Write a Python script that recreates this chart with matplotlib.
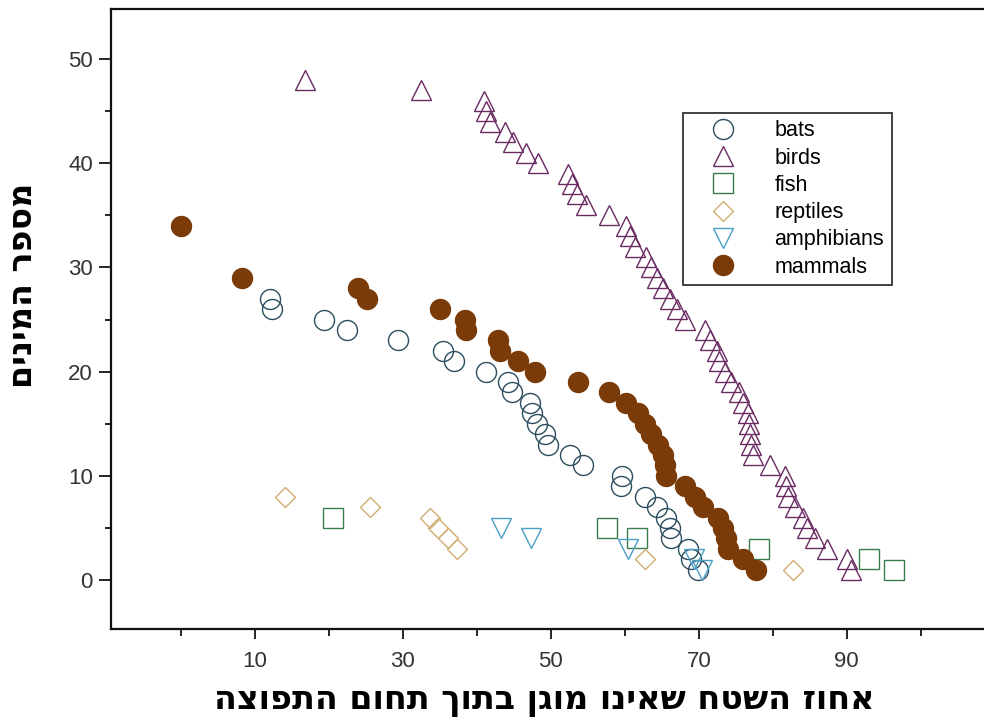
import numpy as np
import matplotlib
matplotlib.use("Agg")
import matplotlib.pyplot as plt
from matplotlib.ticker import MultipleLocator, FixedLocator

# percent of range that is unprotected, per species (sorted), and species count
bats_x = [12.1, 12.3, 19.4, 22.5, 29.4, 35.4, 36.9, 41.3, 44.2, 44.7, 47.2, 47.4,
          48.1, 49.2, 49.6, 52.6, 54.4, 59.6, 59.5, 62.7, 64.3, 65.6, 66.1, 66.3,
          68.6, 69.0, 69.9]
bats_y = list(range(27, 0, -1))

birds_x = [16.8, 32.4, 40.9, 41.2, 41.8, 43.8, 44.9, 46.7, 48.3, 52.3, 52.8, 53.5,
           54.7, 57.9, 60.2, 60.7, 61.4, 62.9, 63.6, 64.3, 65.2, 66.1, 67.0, 68.1,
           70.8, 71.5, 72.4, 72.8, 73.5, 74.4, 75.5, 76.0, 76.6, 76.8, 76.9, 77.0,
           77.4, 79.6, 81.6, 81.8, 82.1, 83.0, 84.1, 84.6, 85.7, 87.3, 90.0, 90.6]
birds_y = list(range(48, 0, -1))

fish_x = [20.6, 57.6, 61.7, 78.2, 93.0, 96.4]
fish_y = [6, 5, 4, 3, 2, 1]

reptiles_x = [14.1, 25.5, 33.6, 34.8, 36.1, 37.3, 62.7, 82.7]
reptiles_y = [8, 7, 6, 5, 4, 3, 2, 1]

amphibians_x = [43.3, 47.3, 60.5, 69.3, 70.5]
amphibians_y = [5, 4, 3, 2, 1]

mammals_x = [0.0, 8.3, 23.9, 25.1, 35.0, 38.4, 38.6, 42.9, 43.1, 45.6, 47.8, 53.7,
             57.9, 60.2, 61.8, 62.7, 63.6, 64.5, 65.2, 65.4, 65.6, 68.1, 69.5, 70.6,
             72.6, 73.3, 73.7, 74.0, 76.0, 77.8]
mammals_y = [34, 29, 28, 27, 26, 25, 24, 23, 22, 21, 20, 19, 18, 17, 16, 15, 14,
             13, 12, 11, 10, 9, 8, 7, 6, 5, 4, 3, 2, 1]

x_label = "אחוז השטח שאינו מוגן בתוך תחום התפוצה"
y_label = "מספר המינים"


def rtl(s):
    # matplotlib has no bidi support, so lay Hebrew out in visual order
    return s[::-1]


fig = plt.figure(figsize=(9.84, 7.24), dpi=100)
ax = fig.add_axes([0.1128, 0.1312, 0.898, 0.8564])

series = [
    (bats_x, bats_y, "bats", dict(marker="o", ms=14.4, mfc="none", mec="#2b4d5e", mew=1.0)),
    (birds_x, birds_y, "birds", dict(marker="^", ms=14.5, mfc="none", mec="#6a2a62", mew=1.0)),
    (fish_x, fish_y, "fish", dict(marker="s", ms=15, mfc="none", mec="#3a7d4e", mew=1.0)),
    (reptiles_x, reptiles_y, "reptiles", dict(marker="D", ms=10, mfc="none", mec="#d2ad72", mew=1.0)),
    (amphibians_x, amphibians_y, "amphibians", dict(marker="v", ms=14, mfc="none", mec="#4a9fc6", mew=1.0)),
    (mammals_x, mammals_y, "mammals", dict(marker="o", ms=14.4, mfc="#7a3b08", mec="#7a3b08", mew=1.0)),
]
for xs, ys, name, style in series:
    ax.plot(xs, ys, ls="none", label=name, **style)

ax.set_xlim(-9.46, 110)
ax.set_ylim(-4.7, 54.8)

ax.xaxis.set_major_locator(FixedLocator([10, 30, 50, 70, 90]))
ax.xaxis.set_minor_locator(FixedLocator([0, 20, 40, 60, 80, 100]))
ax.yaxis.set_major_locator(MultipleLocator(10))
ax.yaxis.set_minor_locator(MultipleLocator(5))
ax.set_yticks([0, 10, 20, 30, 40, 50])

ax.tick_params(axis="x", which="major", direction="out", length=7.5, width=1.2,
               labelsize=16, pad=8)
ax.tick_params(axis="x", which="minor", direction="out", length=5, width=1.2)
ax.tick_params(axis="y", which="major", direction="out", length=9, width=1.2,
               labelsize=16, pad=4)
ax.tick_params(axis="y", which="minor", direction="out", length=4, width=1.2)
for lab in ax.get_xticklabels() + ax.get_yticklabels():
    lab.set_family("Liberation Sans")
    lab.set_color("#333333")

for sp in ax.spines.values():
    sp.set_linewidth(1.6)
    sp.set_color("#111111")

ax.set_xlabel(rtl(x_label), fontsize=24, fontweight="bold", family="DejaVu Sans")
ax.xaxis.set_label_coords(0.49, -0.088)
ax.set_ylabel(rtl(y_label), fontsize=24, fontweight="bold", family="DejaVu Sans")
ax.yaxis.set_label_coords(-0.082, 0.555)

leg = ax.legend(loc="upper left", bbox_to_anchor=(0.694, 0.844),
                bbox_transform=fig.transFigure, borderaxespad=0,
                fancybox=False, framealpha=1, edgecolor="#333333",
                prop={"family": "Liberation Sans", "size": 15.5},
                labelspacing=0.29, handletextpad=0.85, borderpad=0.35,
                handlelength=3.05, markerscale=1.0)
leg.get_frame().set_linewidth(1.3)

fig.savefig("out.png", dpi=100)
